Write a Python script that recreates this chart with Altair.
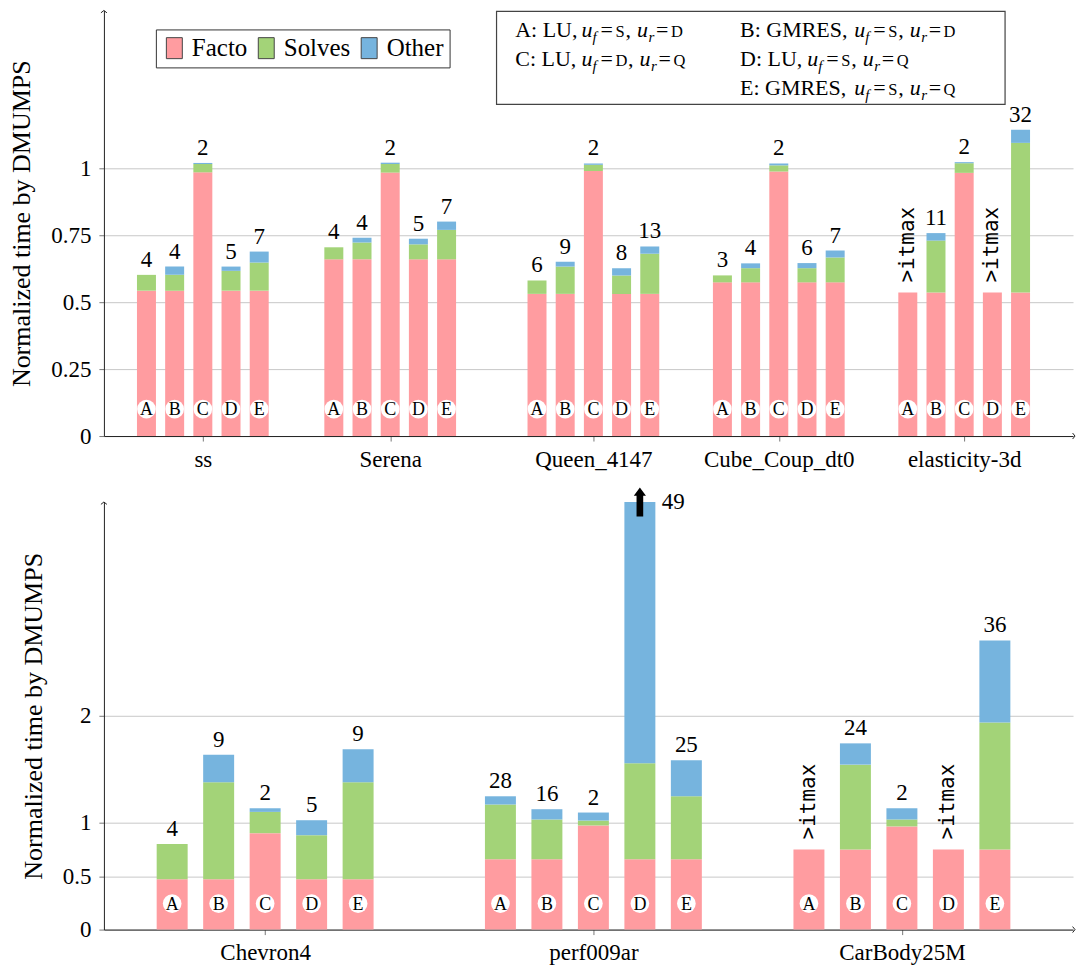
import altair as alt
import pandas as pd

# ---------------- data ----------------
VARIANTS = ["A", "B", "C", "D", "E"]
PARTS = ["Facto", "Solves", "Other"]

TOP_GROUPS = ["ss", "Serena", "Queen_4147", "Cube_Coup_dt0", "elasticity-3d"]
TOP_FACTO = [
    [0.543, 0.543, 0.985, 0.543, 0.543],
    [0.660, 0.660, 0.984, 0.660, 0.660],
    [0.531, 0.531, 0.990, 0.531, 0.531],
    [0.574, 0.574, 0.988, 0.574, 0.574],
    [0.536, 0.536, 0.983, 0.536, 0.536],
]
TOP_SOLVES = [
    [0.059, 0.059, 0.031, 0.074, 0.105],
    [0.045, 0.063, 0.032, 0.056, 0.110],
    [0.050, 0.102, 0.023, 0.069, 0.150],
    [0.026, 0.053, 0.023, 0.053, 0.093],
    [0.000, 0.194, 0.036, 0.000, 0.559],
]
TOP_OTHER = [
    [0.000, 0.031, 0.004, 0.016, 0.041],
    [0.000, 0.018, 0.005, 0.021, 0.031],
    [0.000, 0.018, 0.005, 0.027, 0.027],
    [0.000, 0.018, 0.007, 0.019, 0.026],
    [0.000, 0.028, 0.004, 0.000, 0.049],
]
TOP_ITERS = [
    ["4", "4", "2", "5", "7"],
    ["4", "4", "2", "5", "7"],
    ["6", "9", "2", "8", "13"],
    ["3", "4", "2", "6", "7"],
    [">itmax", "11", "2", ">itmax", "32"],
]

BOT_GROUPS = ["Chevron4", "perf009ar", "CarBody25M"]
BOT_FACTO = [
    [0.470, 0.470, 0.902, 0.470, 0.470],
    [0.657, 0.657, 0.974, 0.657, 0.657],
    [0.750, 0.750, 0.965, 0.750, 0.750],
]
BOT_SOLVES = [
    [0.330, 0.908, 0.199, 0.413, 0.908],
    [0.513, 0.373, 0.046, 0.898, 0.590],
    [0.000, 0.793, 0.065, 0.000, 1.188],
]
BOT_OTHER = [
    [0.000, 0.258, 0.034, 0.140, 0.310],
    [0.077, 0.096, 0.075, 2.445, 0.336],
    [0.000, 0.199, 0.105, 0.000, 0.767],
]
BOT_ITERS = [
    ["4", "9", "2", "5", "9"],
    ["28", "16", "2", "49", "25"],
    [">itmax", "24", "2", ">itmax", "36"],
]

LEGEND_LINES = [
    ("A: LU,", "S", "D"),
    ("B: GMRES,", "S", "D"),
    ("C: LU,", "D", "Q"),
    ("D: LU,", "S", "Q"),
    ("E: GMRES,", "S", "Q"),
]

# ---------------- style / layout ----------------
COLORS = ["#FF9CA0", "#A3D378", "#76B4DE"]
SERIF = "Liberation Serif"
MONO = "DejaVu Sans Mono"
W = 970
TOP_H, BOT_H = 426, 428
TOP_CENTERS = [0.0, 0.9844, 2.0519, 3.026, 4.0]
BOT_CENTERS = [0.0, 1.031, 2.0]
TOP_XDOM = [-0.4935, 4.5455]
BOT_XDOM = [-0.4907, 2.5217]
TOP_STEP, BOT_STEP = 0.1481, 0.146
TOP_YDOM, BOT_YDOM = [0, 1.5896], [0, 4.0]

# legend-box text slots (prefix x, u x, baseline y) relative to plot origin
LEGEND_SLOTS = [(411.7, 478.0, 26.3), (636.7, 751.0, 26.3), (411.7, 478.0, 55.3),
                (636.7, 704.0, 55.3), (636.7, 751.0, 84.3)]

ARROW_UP = "M-0.23,1 L0.23,1 L0.23,-0.43 L0.42,-0.43 L0,-1 L-0.42,-0.43 L-0.23,-0.43 Z"
RECT_SYM = "M-0.76,-1 L0.76,-1 L0.76,1 L-0.76,1 Z"
AX_UP = "M-1,0.8 L0,0 L1,0.8"
AX_RIGHT = "M-0.8,-1 L0,0 L-0.8,1"


def panel_rows(groups, facto, solves, other, iters, centers, step):
    bars, tops = [], []
    for gi, g in enumerate(groups):
        for vi, v in enumerate(VARIANTS):
            x = centers[gi] + (vi - 2) * step
            base = 0.0
            for part, val in zip(PARTS, (facto[gi][vi], solves[gi][vi], other[gi][vi])):
                if val > 0:
                    bars.append(dict(group=g, variant=v, part=part, xpos=x, y0=base, y1=base + val))
                base += val
            tops.append(dict(group=g, variant=v, xpos=x, total=base, iters=iters[gi][vi]))
    return pd.DataFrame(bars), pd.DataFrame(tops)


def legend_segments():
    normal, small, ital, sub = [], [], [], []
    for (prefix, l1, l2), (px, ux, by) in zip(LEGEND_LINES, LEGEND_SLOTS):
        w1 = 9.5 if l1 == "S" else 12.0
        eq1 = ux + 19
        c1 = eq1 + 15
        u2 = c1 + w1 + 12
        eq2 = u2 + 19
        c2 = eq2 + 15
        normal += [dict(t=prefix, px=px, py=by), dict(t="=", px=eq1, py=by),
                   dict(t=",", px=c1 + w1 + 0.5, py=by), dict(t="=", px=eq2, py=by)]
        small += [dict(t=l1, px=c1, py=by), dict(t=l2, px=c2, py=by)]
        ital += [dict(t="u", px=ux, py=by), dict(t="u", px=u2, py=by)]
        sub += [dict(t="f", px=ux + 11, py=by + 5), dict(t="r", px=u2 + 11.5, py=by + 5)]
    return [pd.DataFrame(d) for d in (normal, small, ital, sub)]


def panel(groups, facto, solves, other, iters, centers, step, xdom, ydom, yticks,
          height, barsize, circ_off, with_legend):
    bars, tops = panel_rows(groups, facto, solves, other, iters, centers, step)
    expr = ""
    for i in range(len(groups) - 1):
        t = (centers[i] + centers[i + 1]) / 2
        expr += f"datum.value < {t:.4f} ? '{groups[i]}' : "
    expr += f"'{groups[-1]}'"

    xaxis = alt.Axis(values=centers, labelExpr=expr, title=None, grid=False, tickSize=5,
                     tickColor="#777777", domainColor="#222222", labelFont=SERIF,
                     labelFontSize=23, labelColor="black", labelPadding=7)
    xenc = alt.X("xpos:Q", scale=alt.Scale(domain=xdom, nice=False, zero=False), axis=xaxis)
    yaxis = alt.Axis(values=yticks, format="~g", title="Normalized time by DMUMPS", grid=True,
                     gridColor="#c8c8c8", tickColor="#777777", tickSize=5,
                     domainColor="#222222", labelFont=SERIF, labelFontSize=23,
                     labelColor="black", labelPadding=8, titleFont=SERIF, titleFontSize=26,
                     titleFontWeight="normal", titleColor="black", titlePadding=16)
    yscale = alt.Scale(domain=ydom, nice=False, zero=True)
    ymax = ydom[1]

    if with_legend:
        leg = alt.Legend(orient="none", legendX=52, legendY=19, direction="horizontal",
                         title=None, labelFont=SERIF, labelFontSize=25, labelColor="black",
                         symbolType=RECT_SYM, symbolSize=441, symbolStrokeColor="#444444",
                         symbolStrokeWidth=1, symbolOpacity=1, strokeColor="#333333",
                         fillColor="white", padding=6, labelOffset=5, columnPadding=6)
    else:
        leg = None

    layers = []
    layers.append(alt.Chart(bars).mark_bar(size=barsize).encode(
        x=xenc,
        y=alt.Y("y0:Q", scale=yscale, axis=yaxis),
        y2="y1:Q",
        color=alt.Color("part:N", scale=alt.Scale(domain=PARTS, range=COLORS), legend=leg),
    ))
    layers.append(alt.Chart(tops).mark_point(filled=True, color="white", opacity=1,
                                             size=350, shape="circle").encode(
        x=xenc, y=alt.value(height - circ_off)))
    layers.append(alt.Chart(tops).mark_text(font=SERIF, fontSize=18, color="black",
                                            baseline="middle", align="center", dy=1).encode(
        x=xenc, y=alt.value(height - circ_off), text="variant:N"))
    layers.append(alt.Chart(tops).transform_filter(
        f"datum.iters != '>itmax' && datum.total < {ymax - 1e-6}").mark_text(
        font=SERIF, fontSize=23, color="black", baseline="alphabetic", align="center",
        dy=-8).encode(x=xenc, y=alt.Y("total:Q", scale=yscale, axis=yaxis), text="iters:N"))
    layers.append(alt.Chart(tops).transform_filter("datum.iters == '>itmax'").mark_text(
        font=MONO, fontSize=21, color="black", angle=270, align="left", baseline="middle",
        dx=10).encode(x=xenc, y=alt.Y("total:Q", scale=yscale, axis=yaxis), text="iters:N"))
    # truncated bar: arrow + label to the right
    layers.append(alt.Chart(tops).transform_filter(f"datum.total >= {ymax - 1e-6}").mark_point(
        shape=ARROW_UP, size=841, filled=True, color="black", opacity=1, strokeWidth=0).encode(
        x=xenc, y=alt.Y("total:Q", scale=yscale, axis=yaxis)))
    layers.append(alt.Chart(tops).transform_filter(f"datum.total >= {ymax - 1e-6}").mark_text(
        font=SERIF, fontSize=23, color="black", align="left", baseline="middle", dx=22).encode(
        x=xenc, y=alt.Y("total:Q", scale=yscale, axis=yaxis), text="iters:N"))
    # axis arrow heads
    one = alt.Data(values=[{"k": 1}])
    layers.append(alt.Chart(one).mark_point(shape=AX_UP, size=36, filled=False, color="#222222",
                                            strokeWidth=1, opacity=1).encode(
        x=alt.value(0), y=alt.value(0)))
    layers.append(alt.Chart(one).mark_point(shape=AX_RIGHT, size=36, filled=False,
                                            color="#222222", strokeWidth=1, opacity=1).encode(
        x=alt.value(W + 2), y=alt.value(height)))

    if with_legend:
        layers.append(alt.Chart(one).mark_rect(fill="white", stroke="#444444",
                                               strokeWidth=1.2).encode(
            x=alt.value(393), x2=alt.value(902), y=alt.value(1), y2=alt.value(94)))
        normal, small, ital, sub = legend_segments()
        for df, fs, style in ((normal, 22, "normal"), (small, 16.5, "normal"),
                              (ital, 22, "italic"), (sub, 15, "italic")):
            layers.append(alt.Chart(df).mark_text(
                font=SERIF, fontSize=fs, fontStyle=style, color="black", align="left",
                baseline="alphabetic").encode(
                x=alt.X("px:Q", scale=None, axis=None),
                y=alt.Y("py:Q", scale=None, axis=None),
                text="t:N"))

    return alt.layer(*layers).properties(width=W, height=height)


top = panel(TOP_GROUPS, TOP_FACTO, TOP_SOLVES, TOP_OTHER, TOP_ITERS, TOP_CENTERS, TOP_STEP,
            TOP_XDOM, TOP_YDOM, [0, 0.25, 0.5, 0.75, 1], TOP_H, 19, 27, True)
bottom = panel(BOT_GROUPS, BOT_FACTO, BOT_SOLVES, BOT_OTHER, BOT_ITERS, BOT_CENTERS, BOT_STEP,
               BOT_XDOM, BOT_YDOM, [0, 0.5, 1, 2], BOT_H, 31, 26, False)

chart = alt.vconcat(top, bottom, spacing=66, bounds="flush").properties(
    padding=0
).resolve_legend(color="independent").configure_view(stroke=None)

chart.save("out.html", embed_options={"renderer": "svg", "actions": False})
